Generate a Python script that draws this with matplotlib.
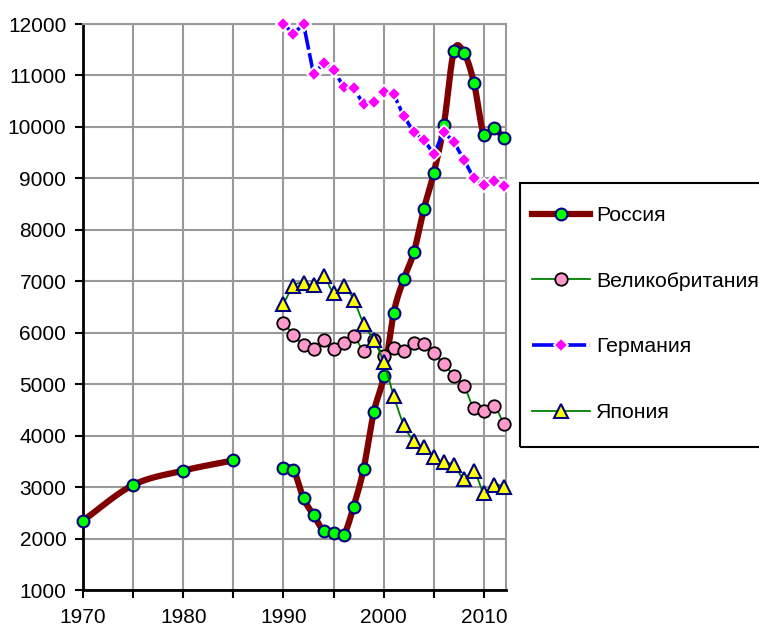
import numpy as np
import matplotlib
matplotlib.use('Agg')
import matplotlib.pyplot as plt
from matplotlib.lines import Line2D
from matplotlib.patches import Rectangle

plt.rcParams['font.family'] = ['Liberation Sans', 'DejaVu Sans']

years_early = [1970, 1975, 1980, 1985]
russia_early = [2350, 3040, 3320, 3520]

years = list(range(1990, 2013))
russia = [3370, 3330, 2780, 2460, 2150, 2110, 2070, 2620, 3360, 4450, 5150, 6390,
          7040, 7560, 8400, 9110, 10040, 11470, 11440, 10860, 9840, 9970, 9780]
uk = [6190, 5960, 5760, 5690, 5850, 5690, 5810, 5940, 5650, 5850, 5550, 5700,
      5650, 5810, 5780, 5610, 5390, 5160, 4970, 4530, 4480, 4580, 4220]
germany = [12000, 11810, 12000, 11030, 11240, 11110, 10780, 10750, 10440, 10480, 10680, 10630,
           10210, 9900, 9750, 9470, 9900, 9710, 9360, 9000, 8880, 8940, 8850]
japan = [6560, 6910, 6970, 6930, 7100, 6780, 6910, 6640, 6170, 5860, 5430, 4770,
         4210, 3890, 3770, 3580, 3480, 3430, 3160, 3310, 2890, 3050, 3010]

labels = ['Россия', 'Великобритания', 'Германия', 'Япония']
xticks = list(range(1970, 2011, 5))
xticklabels = ['1970', '', '1980', '', '1990', '', '2000', '', '2010']
yticks = list(range(1000, 12001, 1000))


def smooth(x, y, n=24):
    """Catmull-Rom style smoothing of the drawn line (Excel 'smoothed line')."""
    x = np.asarray(x, float)
    y = np.asarray(y, float)
    px = np.concatenate([[2 * x[0] - x[1]], x, [2 * x[-1] - x[-2]]])
    py = np.concatenate([[2 * y[0] - y[1]], y, [2 * y[-1] - y[-2]]])
    xs, ys = [], []
    for i in range(1, len(px) - 2):
        t = np.linspace(0, 1, n, endpoint=False)
        for P, out in ((px, xs), (py, ys)):
            p0, p1, p2, p3 = P[i - 1], P[i], P[i + 1], P[i + 2]
            out.extend(0.5 * ((2 * p1) + (-p0 + p2) * t +
                              (2 * p0 - 5 * p1 + 4 * p2 - p3) * t ** 2 +
                              (-p0 + 3 * p1 - 3 * p2 + p3) * t ** 3))
    xs.append(x[-1])
    ys.append(y[-1])
    return np.array(xs), np.array(ys)


W, H = 759, 628
fig = plt.figure(figsize=(W / 100, H / 100), dpi=100)
ax = fig.add_axes([83 / W, 1 - 590 / H, (506 - 83) / W, (590 - 24) / H])

ax.set_xlim(1970, 2012.2)
ax.set_ylim(1000, 12000)

ru_c = '#800000'
ge_dash = (7, 1.0)

# Russia
for xx, yy in ((years_early, russia_early), (years, russia)):
    sx, sy = smooth(xx, yy)
    ax.plot(sx, sy, color=ru_c, lw=4.5, solid_capstyle='butt', zorder=3)
    ax.plot(xx, yy, ls='none', marker='o', ms=8.5, mfc='#00FF00', mec='#000080',
            mew=1.5, zorder=4, clip_on=False)

# UK
sx, sy = smooth(years, uk)
ax.plot(sx, sy, color='#008000', lw=1.3, zorder=5)
ax.plot(years, uk, ls='none', marker='o', ms=9, mfc='#FF99CC', mec='black',
        mew=1.3, zorder=6, clip_on=False)

# Germany
ax.plot(years, germany, color='#0000FF', lw=2.6, dashes=ge_dash, zorder=7,
        clip_on=False)
ax.plot(years, germany, ls='none', marker='D', ms=7, mfc='#FF00FF', mec='white',
        mew=1.3, zorder=8, clip_on=False)

# Japan
sx, sy = smooth(years, japan)
ax.plot(sx, sy, color='#008000', lw=1.3, zorder=9)
ax.plot(years, japan, ls='none', marker='^', ms=10, mfc='#FFFF00', mec='#000080',
        mew=1.5, zorder=10, clip_on=False)

# Axes styling
ax.set_xticks(xticks)
ax.set_xticklabels(xticklabels)
ax.set_yticks(yticks)
ax.grid(True, color='#999999', lw=1.5)
ax.set_axisbelow(True)
for s in ('left', 'bottom'):
    ax.spines[s].set_color('black')
    ax.spines[s].set_linewidth(2)
for s in ('top', 'right'):
    ax.spines[s].set_color('#999999')
    ax.spines[s].set_linewidth(1.5)
ax.tick_params(axis='both', direction='out', length=6, width=1.5, color='black',
               labelsize=15)
ax.tick_params(axis='x', pad=7)
ax.tick_params(axis='y', pad=6)

# Legend frame (extends beyond right edge of figure, as in the original)
fig.patches.append(Rectangle((520 / W, 1 - 447 / H), (800 - 520) / W, (447 - 183) / H,
                             transform=fig.transFigure, fill=False, ec='black', lw=1.5,
                             zorder=20))

handles = [
    Line2D([], [], color=ru_c, lw=4.5, marker='o', ms=8.5, mfc='#00FF00', mec='#000080', mew=1.5),
    Line2D([], [], color='#008000', lw=1.3, marker='o', ms=9, mfc='#FF99CC', mec='black', mew=1.3),
    Line2D([], [], color='#0000FF', lw=2.6, dashes=ge_dash, marker='D', ms=7,
           mfc='#FF00FF', mec='white', mew=1.3),
    Line2D([], [], color='#008000', lw=1.3, marker='^', ms=10, mfc='#FFFF00', mec='#000080', mew=1.5),
]
leg = fig.legend(handles, labels, loc='upper left', bbox_to_anchor=(532 / W, 1 - 206 / H),
                 bbox_transform=fig.transFigure, borderaxespad=0, fontsize=15.3,
                 frameon=False, handlelength=2.75, handletextpad=0.25,
                 labelspacing=2.2, borderpad=0)

fig.savefig('out.png', dpi=100)
